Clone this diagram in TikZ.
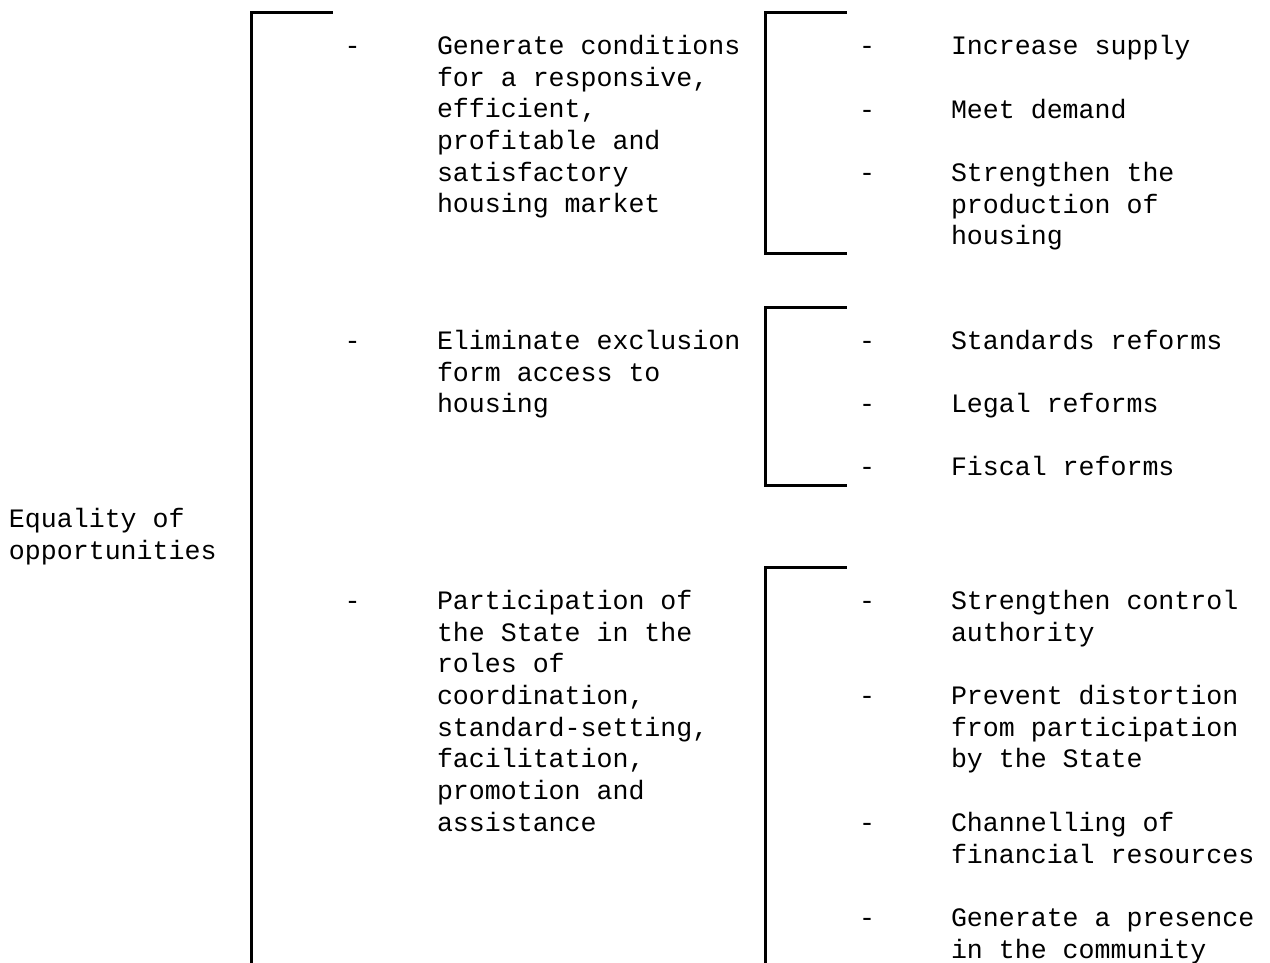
\documentclass[tikz,border=0pt]{standalone}
\usepackage{fontspec}
\setmainfont{Liberation Mono}
\begin{document}
\begin{tikzpicture}[x=1pt,y=1pt,
  txt/.style={anchor=base west,inner sep=0pt,outer sep=0pt,align=left,
    font=\fontsize{26.6}{31.7}\selectfont},
  brk/.style={line width=3pt,line cap=rect}]
\useasboundingbox[fill=white] (0,0) rectangle (1270,962);
% brackets
\draw[brk] (331,949) -- (251,949) -- (251,-5);
\draw[brk] (845,949) -- (765,949) -- (765,708) -- (845,708);
\draw[brk] (845,654) -- (765,654) -- (765,476) -- (845,476);
\draw[brk] (845,394) -- (765,394) -- (765,-5);
% root (anchor = baseline of last line)
\node[txt] (root) at (9,402.8) {Equality of\\opportunities};
% left column
\node[txt] (d1) at (344.6,907.5) {-};
\node[txt] (a1) at (437,749.0) {Generate conditions\\for a responsive,\\efficient,\\profitable and\\satisfactory\\housing market};
\node[txt] (d2) at (344.6,612.5) {-};
\node[txt] (a2) at (437,549.1) {Eliminate exclusion\\form access to\\housing};
\node[txt] (d3) at (344.6,352.5) {-};
\node[txt] (a3) at (437,130.6) {Participation of\\the State in the\\roles of\\coordination,\\standard-setting,\\facilitation,\\promotion and\\assistance};
% right column
\node[txt] (e1) at (859,907.5) {-};
\node[txt] (b1) at (951,907.5) {Increase supply};
\node[txt] (e2) at (859,843.5) {-};
\node[txt] (b2) at (951,843.5) {Meet demand};
\node[txt] (e3) at (859,780.5) {-};
\node[txt] (b3) at (951,717.1) {Strengthen the\\production of\\housing};
\node[txt] (e4) at (859,612.5) {-};
\node[txt] (b4) at (951,612.5) {Standards reforms};
\node[txt] (e5) at (859,549.5) {-};
\node[txt] (b5) at (951,549.5) {Legal reforms};
\node[txt] (e6) at (859,486.5) {-};
\node[txt] (b6) at (951,486.5) {Fiscal reforms};
\node[txt] (e7) at (859,352.5) {-};
\node[txt] (b7) at (951,320.8) {Strengthen control\\authority};
\node[txt] (e8) at (859,257.5) {-};
\node[txt] (b8) at (951,194.1) {Prevent distortion\\from participation\\by the State};
\node[txt] (e9) at (859,130.5) {-};
\node[txt] (b9) at (951,98.8) {Channelling of\\financial resources};
\node[txt] (e10) at (859,35.5) {-};
\node[txt] (b10) at (951,3.8) {Generate a presence\\in the community};
\end{tikzpicture}
\end{document}
